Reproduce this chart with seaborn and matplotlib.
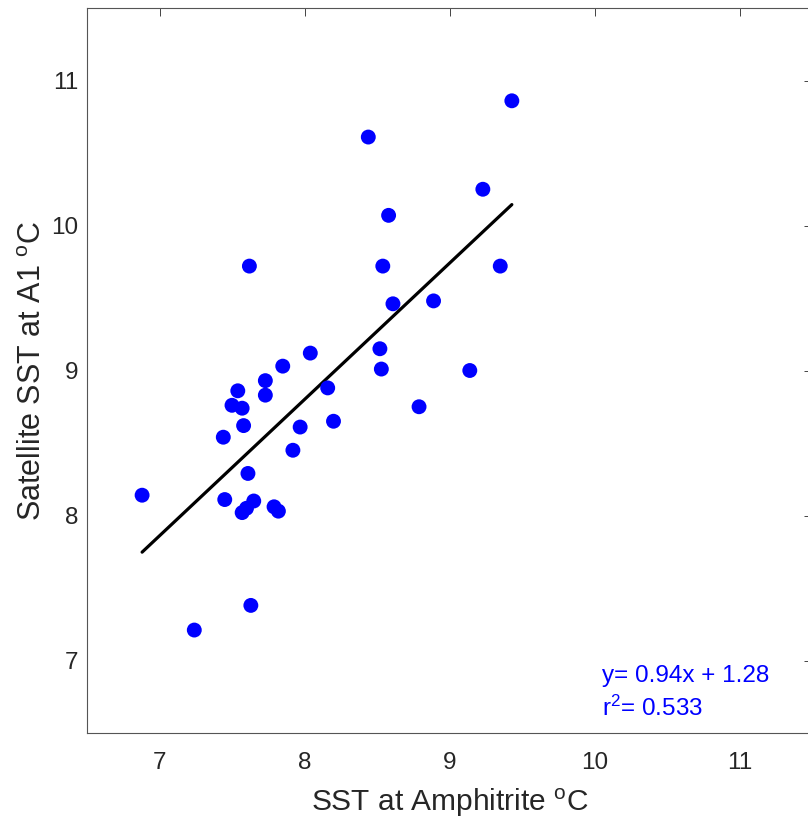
import matplotlib
matplotlib.use("Agg")
import matplotlib.pyplot as plt
import seaborn as sns
import numpy as np
import pandas as pd

# ---- data ----
sst_amphitrite = [6.88, 7.24, 7.63, 7.62, 8.44, 9.43, 9.23, 8.58, 8.54, 9.35,
                  8.61, 8.89, 8.52, 8.53, 9.14, 8.79, 7.44, 7.54, 7.50, 7.57,
                  7.58, 7.73, 7.73, 8.16, 8.20, 7.97, 7.92, 7.61, 7.45, 7.65,
                  7.60, 7.57, 7.79, 7.82, 7.85, 8.04]
sst_satellite = [8.14, 7.21, 7.38, 9.72, 10.61, 10.86, 10.25, 10.07, 9.72, 9.72,
                 9.46, 9.48, 9.15, 9.01, 9.00, 8.75, 8.54, 8.86, 8.76, 8.74,
                 8.62, 8.93, 8.83, 8.88, 8.65, 8.61, 8.45, 8.29, 8.11, 8.10,
                 8.05, 8.02, 8.06, 8.03, 9.03, 9.12]
slope = 0.94
intercept = 1.28
r_squared = 0.533
x_ticks = [7, 8, 9, 10, 11]
y_ticks = [7, 8, 9, 10, 11]

df = pd.DataFrame({"x": sst_amphitrite, "y": sst_satellite})
fit_x = [min(sst_amphitrite), max(sst_amphitrite)]
fit_df = pd.DataFrame({"x": fit_x, "y": [slope * v + intercept for v in fit_x]})

sns.set_style("white")
plt.rcParams["font.family"] = ["Liberation Sans", "DejaVu Sans"]
plt.rcParams["mathtext.fontset"] = "custom"
plt.rcParams["mathtext.rm"] = "Liberation Sans"
plt.rcParams["mathtext.it"] = "Liberation Sans"

W, H = 808, 822
fig = plt.figure(figsize=(W / 100, H / 100), dpi=100)
fig.patch.set_facecolor("white")
ax = fig.add_axes([87 / W, (H - 733) / H, 725 / W, 725 / H])

sns.scatterplot(data=df, x="x", y="y", ax=ax, s=115, color="#0000FF",
                edgecolor="none", linewidth=0, zorder=3)
sns.lineplot(data=fit_df, x="x", y="y", ax=ax, color="black", linewidth=2.3,
             zorder=2)

ax.set_xlim(6.5, 11.5)
ax.set_ylim(6.5, 11.5)
ax.set_xticks(x_ticks)
ax.set_yticks(y_ticks)
ax.set_xticklabels([str(t) for t in x_ticks])
ax.set_yticklabels([str(t) for t in y_ticks])

textc = "#262626"
ax.tick_params(direction="in", length=5.5, width=0.6, colors=textc,
               labelsize=17.5, top=True, right=True)
ax.tick_params(axis="x", pad=13.5)
ax.tick_params(axis="y", pad=6.5)
for sp in ax.spines.values():
    sp.set_visible(True)
    sp.set_color("#555555")
    sp.set_linewidth(0.8)

ax.set_xlabel(r"SST at Amphitrite $^{\rm o}$C", fontsize=21.5, color=textc,
              labelpad=9)
ax.set_ylabel(r"Satellite SST at A1 $^{\rm o}$C", fontsize=22, color=textc,
              labelpad=2)

ax.text(0.71, 0.0703, f"y= {slope:.2f}x + {intercept:.2f}", transform=ax.transAxes,
        color="#0000FF", fontsize=17.5, va="baseline", ha="left")
ax.text(0.71, 0.0234, f"r$^2$= {r_squared:.3f}", transform=ax.transAxes,
        color="#0000FF", fontsize=17.5, va="baseline", ha="left")

fig.savefig("out.png", dpi=100, facecolor="white")
